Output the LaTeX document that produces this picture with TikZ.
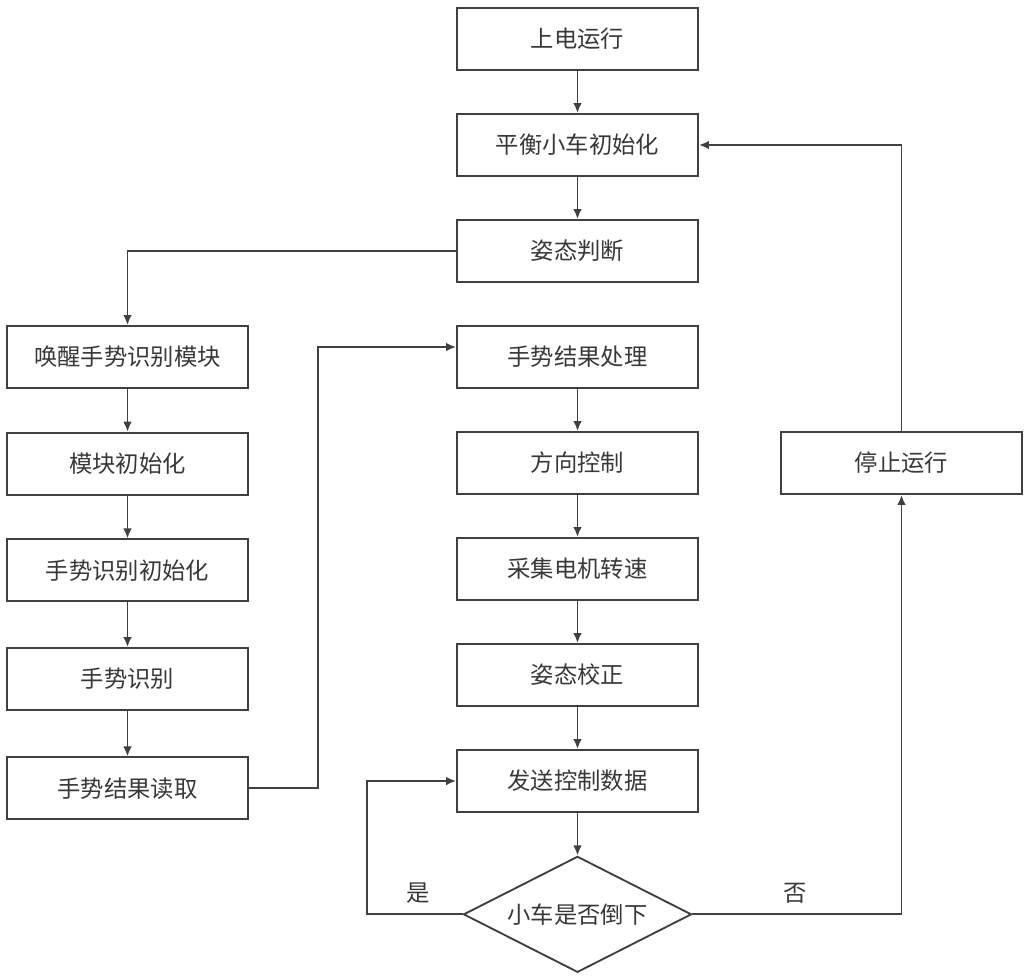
\documentclass[tikz,border=0pt]{standalone}
\usepackage{fontspec}
\setmainfont{Noto Sans CJK SC}
\usepackage{tikz}
\usetikzlibrary{shapes.geometric, arrows.meta}
\definecolor{LineGray}{HTML}{404040}
\definecolor{TextGray}{HTML}{383838}
\tikzstyle{process} = [rectangle, minimum width=180.75pt, minimum height=46.5pt, text centered, draw=LineGray, line width=1.4pt, text=TextGray, font=\fontsize{17.5pt}{18pt}\selectfont]
\tikzstyle{decision} = [diamond, aspect=2, inner sep=0pt, minimum width=171pt, minimum height=87pt, text centered, draw=LineGray, line width=1.4pt, text=TextGray, font=\fontsize{17.5pt}{18pt}\selectfont]
\tikzstyle{tag} = [text=TextGray, font=\fontsize{17.5pt}{18pt}\selectfont]
\tikzstyle{arrow} = [line width=1.4pt, draw=LineGray, ->, >={Latex[length=7.5pt,width=6.5pt]}]

\begin{document}
\begin{tikzpicture}[x=0.75pt, y=-0.75pt, node distance=79.5pt]

\useasboundingbox (0,0) rectangle (1029,978);

%\node (start) [process] {Start};

\node (power) [process] at (577.5,39) {上电运行};

\node (init) [process, below of=power] {平衡小车初始化};

\node (pose) [process, below of=init] {姿态判断};

\node (gproc) [process, below of=pose] {手势结果处理};
\node (dir) [process, below of=gproc] {方向控制};
\node (speed) [process, below of=dir] {采集电机转速};
\node (fix) [process, below of=speed] {姿态校正};
\node (send) [process, below of=fix] {发送控制数据};
\node (fall) [decision, below of=send, node distance=100pt] {小车是否倒下};

\node (wake) [process, left of=gproc, node distance=337.5pt] {唤醒手势识别模块};
\node (minit) [process, below of=wake, node distance=80pt] {模块初始化};
\node (ginit) [process, below of=minit, node distance=80pt] {手势识别初始化};
\node (grec) [process, below of=ginit, node distance=81.5pt] {手势识别};
\node (gread) [process, below of=grec, node distance=82pt] {手势结果读取};

\node (stop) [process, right of=dir, node distance=243pt] {停止运行};

\node (yes) [tag] at (418,893) {是};
\node (no) [tag] at (795,893) {否};

\draw [arrow] (power) -- (init);
\draw [arrow] (init) -- (pose);
\draw [arrow] (pose.west) -| (wake.north);

\draw [arrow] (wake) -- (minit);
\draw [arrow] (minit) -- (ginit);
\draw [arrow] (ginit) -- (grec);
\draw [arrow] (grec) -- (gread);
\draw [arrow] (gread.east) -- ([xshift=51.75pt]gread.east) |- ([yshift=7.5pt]gproc.west);

\draw [arrow] (gproc) -- (dir);
\draw [arrow] (dir) -- (speed);
\draw [arrow] (speed) -- (fix);
\draw [arrow] (fix) -- (send);
\draw [arrow] (send) -- (fall);

\draw [arrow] (fall.west) -- ([xshift=-72pt]fall.west) |- (send.west);
\draw [arrow] (fall.east) -| (stop.south);
\draw [arrow] (stop.north) |- (init.east);

\end{tikzpicture}
\end{document}
